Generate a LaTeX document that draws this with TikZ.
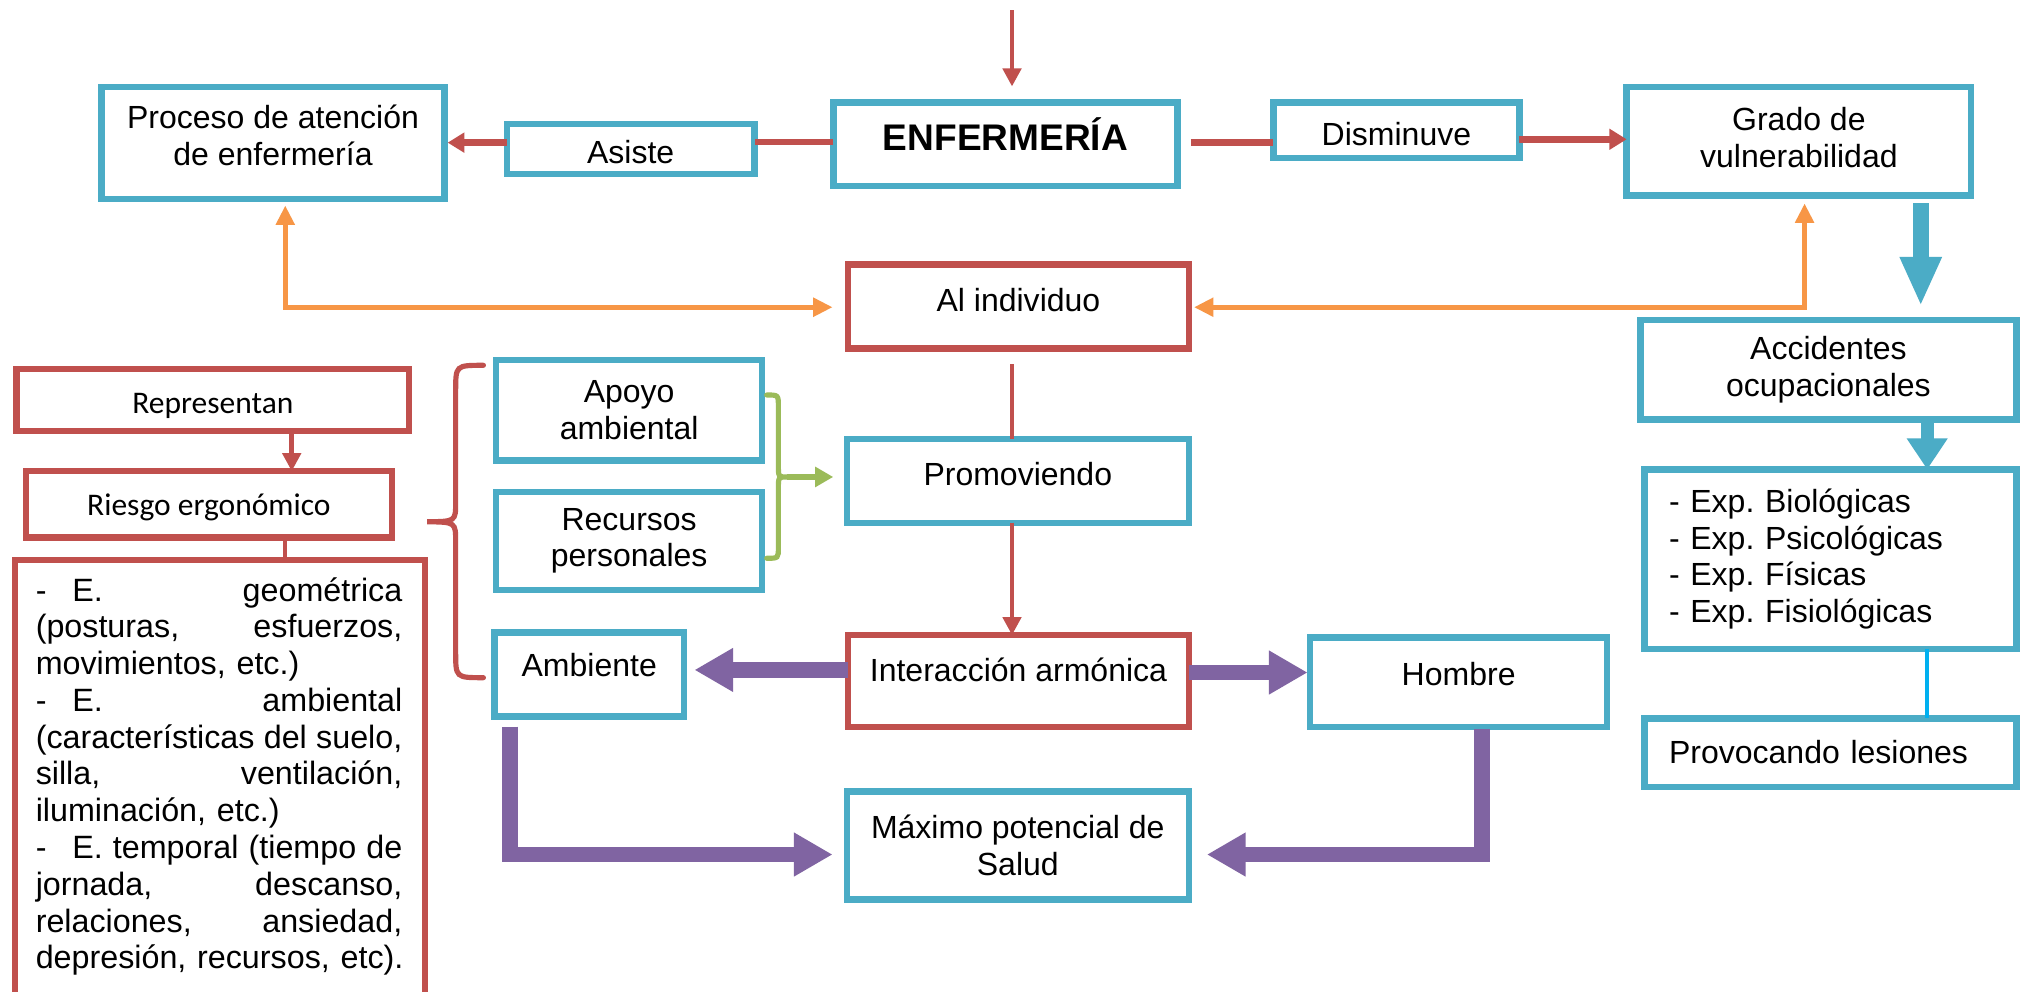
\documentclass[tikz,border=0pt]{standalone}
\usepackage{fontspec}
\setmainfont{Liberation Sans}
\newfontfamily\calib{Carlito}
\usetikzlibrary{arrows.meta,calc}
\definecolor{cblue}{HTML}{4BACC6}
\definecolor{cred}{HTML}{C0504D}
\definecolor{corange}{HTML}{F79646}
\definecolor{cpurple}{HTML}{8064A2}
\definecolor{cgreen}{HTML}{9BBB59}
\definecolor{ccyan}{HTML}{00B0F0}
\newcommand\jline[1]{\leavevmode\hbox to 284pt{#1}}
\frenchspacing
\begin{document}
\begin{tikzpicture}[x=1pt,y=-1pt,
  box/.style={rectangle, line width=5pt, fill=white, inner sep=0pt, outer sep=0pt, align=center, font=\fontsize{24.8}{28.5}\selectfont},
  bbox/.style={box, draw=cblue},
  rbox/.style={box, draw=cred},
  lbl/.style={align=center, inner sep=0pt, font=\fontsize{24.8}{28.5}\selectfont},
  th/.style={text height=18pt, text depth=#1},
  rthin/.style={draw=cred, line width=3.5pt},
  rthick/.style={draw=cred, line width=5pt},
  rtip/.style={-{Triangle[width=14pt,length=14pt]}},
  otip/.style={draw=corange, line width=4pt, line join=miter, {Triangle[width=14pt,length=15pt]}-{Triangle[width=14pt,length=15pt]}},
  parrow/.style={draw=cpurple, line width=12pt, line join=miter, -{Triangle[width=32pt,length=30pt]}},
  brace/.style={line width=4pt, line cap=round}
]
\useasboundingbox[fill=white] (0,0) rectangle (1568,768);

% top row
\node[bbox, minimum width=265.4pt, minimum height=87pt, label={[lbl, yshift=5.6pt]center:{Proceso de atención\\de enfermería}}] (proc) at (211.5,110.7) {};
\node[bbox, minimum width=266.5pt, minimum height=64.6pt, font=\fontsize{28.7}{32}\selectfont\bfseries, text height=20pt, text depth=10pt] (enf) at (778.9,111.8) {ENFERMERÍA};
\node[bbox, minimum width=192pt, minimum height=39pt, text height=21.8pt, text depth=0pt] (asiste) at (488.6,115.5) {Asiste};
\node[bbox, minimum width=190.5pt, minimum height=43.1pt, text height=23.6pt, text depth=0pt] (dism) at (1081.8,101) {Disminuve};
\node[bbox, minimum width=266.8pt, minimum height=84.4pt, label={[lbl, yshift=2.7pt]center:{Grado de\\vulnerabilidad}}] (grado) at (1393.6,109.4) {};

% middle
\node[rbox, minimum width=264pt, minimum height=65pt, th=11pt] (indiv) at (789,237.5) {Al individuo};
\node[bbox, minimum width=291pt, minimum height=77pt] (acc) at (1416.5,286.5) {Accidentes\\ocupacionales};
\node[bbox, minimum width=288pt, minimum height=139pt, text width=250pt, align=left, font=\fontsize{24.8}{28.4}\selectfont] (exp) at (1418,433.2) {- Exp. Biológicas\\- Exp. Psicológicas\\- Exp. Físicas\\- Exp. Fisiológicas};
\node[bbox, minimum width=288pt, minimum height=53pt, text width=250pt, align=left] (prov) at (1418,583) {Provocando lesiones};

\node[rbox, minimum width=304pt, minimum height=47.7pt, font=\calib\fontsize{24.4}{28}\selectfont, text height=21.2pt, text depth=0pt] (repr) at (164.9,309.9) {Representan};
\node[rbox, minimum width=283.5pt, minimum height=51.5pt, font=\calib\fontsize{24.4}{28}\selectfont, text height=17.6pt, text depth=0pt] (ries) at (161.8,390.8) {Riesgo ergonómico};
\node[rbox, minimum width=317.8pt, minimum height=380pt, anchor=north] (lst) at (170.4,433.8) {};
\node[anchor=north west, text width=290pt, align=left, inner sep=0pt, font=\fontsize{25}{28.5}\selectfont] (lsttxt) at (27.5,441.4) {%
\jline{\rule{0pt}{24pt}-\hspace{20pt}E.\hfill geométrica}\\
\jline{(posturas,\hfill esfuerzos,}\\
\mbox{movimientos, etc.)}\\
\jline{-\hspace{20pt}E.\hfill ambiental}\\
\jline{(características\hfill del\hfill suelo,}\\
\jline{silla,\hfill ventilación,}\\
\mbox{iluminación, etc.)}\\
\jline{-\hspace{20pt}E.\hfill temporal\hfill (tiempo\hfill de}\\
\jline{jornada,\hfill descanso,}\\
\jline{relaciones,\hfill ansiedad,}\\
\mbox{depresión, recursos, etc).}};

\node[bbox, minimum width=206pt, minimum height=78pt] (apoyo) at (487.4,317.9) {Apoyo\\ambiental};
\node[bbox, minimum width=206pt, minimum height=76pt] (recur) at (487.4,419) {Recursos\\personales};
\node[bbox, minimum width=265pt, minimum height=65pt, th=11pt] (promo) at (788.5,372.5) {Promoviendo};
\node[rbox, minimum width=264pt, minimum height=71pt, th=17pt] (inter) at (789,527.5) {Interacción armónica};
\node[bbox, minimum width=147pt, minimum height=65pt, th=15pt] (amb) at (456.5,522.5) {Ambiente};
\node[bbox, minimum width=230pt, minimum height=69pt, th=13pt] (hombre) at (1130,528.5) {Hombre};
\node[bbox, minimum width=265pt, minimum height=84pt] (max) at (788.5,655) {Máximo potencial de\\Salud};

% helper coordinates
\coordinate (xm) at (784,0);
\coordinate (topstart) at (784,8);
\coordinate (xL) at (221,0);
\coordinate (xR) at (1398,0);
\coordinate (xb) at (1488,0);
\coordinate (xc) at (1493,0);
\coordinate (xr) at (226,0);
\coordinate (xq) at (220.8,0);
\coordinate (xa) at (395,0);
\coordinate (xh) at (1148,0);
\coordinate (gtip) at (609.5,369.5);

% red connectors
\draw[rthin, rtip] (topstart) -- ($(enf.north -| xm)+(0,-12.5)$);
\draw[rthick] ($(enf.west)+(0,-2)$) -- ($(asiste.east |- enf.west)+(0,-2)$);
\draw[rthick, -{Triangle[width=15pt,length=13pt]}] ($(asiste.west |- enf.west)+(0,-1.3)$) -- ($(proc.east |- enf.west)+(2.6,-1.3)$);
\draw[rthick] ($(enf.east)+(10.5,-1.3)$) -- ($(dism.west |- enf.east)+(0,-1.3)$);
\draw[rthick, -{Triangle[width=15.5pt,length=13.4pt]}] ($(dism.east |- 0,107.9)$) -- ($(grado.west |- 0,107.9)$);
\draw[rthin] ($(indiv.south -| xm)+(0,12)$) -- (promo.north -| xm);
\draw[rthin, rtip] (promo.south -| xm) -- (inter.north -| xm);
\draw[rthin, rtip] (repr.south -| xr) -- (ries.north -| xr);
\draw[rthin] (ries.south -| xq) -- (lst.north -| xq);

% orange
\draw[otip] ($(proc.south -| xL)+(0,5)$) |- ($(indiv.west)+(-12,0.5)$);
\draw[otip] ($(grado.south -| xR)+(0,6)$) |- ($(indiv.east)+(4,0.5)$);

% blue
\draw[draw=cblue, line width=12pt, -{Triangle[width=30pt,length=38pt]}] ($(grado.south -| xb)+(0,6)$) -- ($(acc.north -| xb)+(0,-11)$);
\draw[draw=cblue, line width=10pt, -{Triangle[width=30pt,length=24pt]}] (acc.south -| xc) -- (exp.north -| xc);
\draw[draw=ccyan, line width=3.5pt] (exp.south -| xc) -- (prov.north -| xc);

% purple
\draw[parrow] ($(inter.west)+(0,-8.5)$) -- ($(amb.east |- inter.west)+(8,-8.5)$);
\draw[parrow] ($(inter.east)+(0,-6.5)$) -- ($(hombre.west |- inter.east)+(-2,-6.5)$);
\draw[parrow] ($(amb.south -| xa)+(0,8)$) |- ($(max.west)+(-11,7)$);
\draw[parrow] ($(hombre.south -| xh)+(0,2)$) |- ($(max.east)+(14,7)$);

% braces
\draw[brace, draw=cred] (374.5,283) .. controls (353,283) .. (353,303) -- (353,389) .. controls (353,404) .. (331,404.2) .. controls (353,404.5) .. (353,420) -- (353,505) .. controls (353,525) .. (374.5,525);
\draw[brace, draw=cgreen] (594,306) .. controls (603,306) .. (603,315) -- (603,360) .. controls (603,369.5) .. (gtip) .. controls (603,369.5) .. (603,379) -- (603,424) .. controls (603,432.5) .. (594,432.5);
\draw[draw=cgreen, line width=4pt, -{Triangle[width=15pt,length=14pt]}] (gtip) -- ($(promo.west |- gtip)+(-10.5,0)$);
\end{tikzpicture}
\end{document}
